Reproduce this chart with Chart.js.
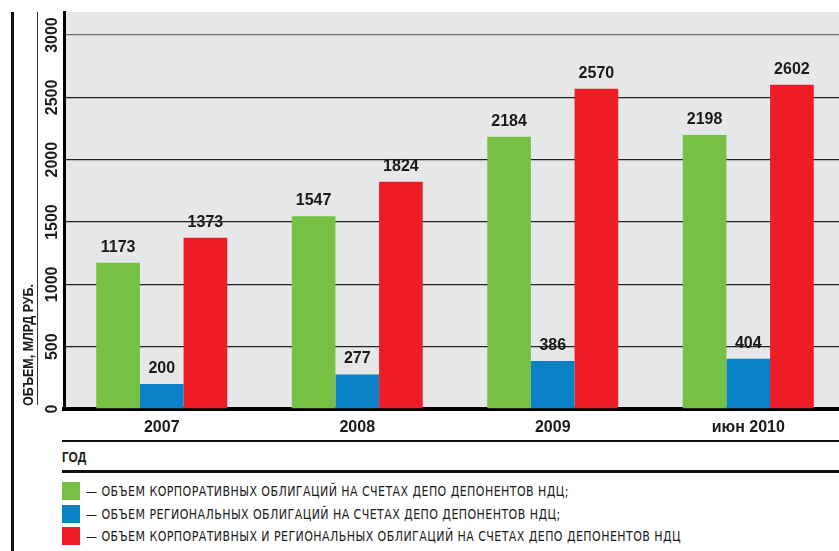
<!DOCTYPE html>
<html>
<head>
<meta charset="utf-8">
<script src="https://cdn.jsdelivr.net/npm/chart.js@4.4.1/dist/chart.umd.min.js"></script>
<style>
  html, body { margin: 0; padding: 0; background: #fff; overflow: hidden; }
  body { width: 839px; height: 551px; position: relative; font-family: "Liberation Sans", Arial, sans-serif; color: #1a1a1a; }
  #chart { position: absolute; left: 0; top: 0; }
  .line { position: absolute; background: #111; }
  .god { position: absolute; left: 62px; top: 449px; font: bold 14px "Liberation Sans Narrow", "Liberation Sans", sans-serif; transform: scaleX(0.85); transform-origin: left center; }
  .leg { position: absolute; left: 62px; white-space: nowrap; height: 18px; }
  .leg i { position: absolute; left: 0; top: 0; width: 18px; height: 18px; }
  .leg span { position: absolute; left: 24px; top: 1px; font: 14px "Liberation Sans Narrow", "DejaVu Sans Condensed", sans-serif; letter-spacing: 0.5px; transform-origin: left center; }
</style>
</head>
<body>
<canvas id="chart" width="850" height="440"></canvas>
<div class="line" style="left:11px; top:12px; width:3px; height:539px;"></div>
<div class="line" style="left:37px; top:12px; width:1px; height:393px; background:#333;"></div>
<div class="line" style="left:62px; top:440px; width:777px; height:2px;"></div>
<div class="god">ГОД</div>
<div class="line" style="left:62px; top:470px; width:777px; height:3px;"></div>
<div id="legend"></div>

<script>
const categories = ['2007', '2008', '2009', 'июн 2010'];
const corporate = [1173, 1547, 2184, 2198];
const regional = [200, 277, 386, 404];
const total = [1373, 1824, 2570, 2602];
const yTicks = [0, 500, 1000, 1500, 2000, 2500, 3000];
const yTitle = 'ОБЪЕМ, МЛРД РУБ.';
const legendLabels = [
  '— ОБЪЕМ КОРПОРАТИВНЫХ ОБЛИГАЦИЙ НА СЧЕТАХ ДЕПО ДЕПОНЕНТОВ НДЦ;',
  '— ОБЪЕМ РЕГИОНАЛЬНЫХ ОБЛИГАЦИЙ НА СЧЕТАХ ДЕПО ДЕПОНЕНТОВ НДЦ;',
  '— ОБЪЕМ КОРПОРАТИВНЫХ И РЕГИОНАЛЬНЫХ ОБЛИГАЦИЙ НА СЧЕТАХ ДЕПО ДЕПОНЕНТОВ НДЦ'
];
const colors = ['#76c043', '#0a80c6', '#ee1c25'];

// legend in html, squeezed so the long line is ~595px like the original
const legend = document.getElementById('legend');
const spans = [];
legendLabels.forEach((txt, i) => {
  const d = document.createElement('div');
  d.className = 'leg';
  d.style.top = (482 + i * 22.5) + 'px';
  d.innerHTML = '<i style="background:' + colors[i] + '"></i><span>' + txt + '</span>';
  legend.appendChild(d);
  spans.push(d.querySelector('span'));
});
const longest = spans[2].getBoundingClientRect().width;
const sx = 595 / longest;
spans.forEach(s => { s.style.transform = 'scaleX(' + sx + ')'; });

const bgPlugin = {
  id: 'bg',
  beforeDraw(chart) {
    const { ctx, chartArea: a } = chart;
    ctx.save();
    ctx.fillStyle = '#e6e7e9';
    ctx.fillRect(a.left, a.top, a.right - a.left, a.bottom - a.top);
    ctx.restore();
  }
};

// rotated y tick labels + y title
const yLabelsPlugin = {
  id: 'yLabels',
  afterDraw(chart) {
    const { ctx } = chart;
    const y = chart.scales.y;
    ctx.save();
    ctx.fillStyle = '#1a1a1a';
    ctx.font = 'bold 16px "Liberation Sans", Arial, sans-serif';
    ctx.textAlign = 'center';
    ctx.textBaseline = 'middle';
    yTicks.forEach(v => {
      const py = y.getPixelForValue(v);
      ctx.save();
      ctx.translate(52, py);
      ctx.rotate(-Math.PI / 2);
      ctx.fillText(String(v), 0, 1);
      ctx.restore();
    });
    ctx.font = 'bold 15px "Liberation Sans Narrow", "Liberation Sans", sans-serif';
    ctx.textAlign = 'left';
    ctx.textBaseline = 'alphabetic';
    const w = ctx.measureText(yTitle).width;
    ctx.save();
    ctx.translate(33, y.getPixelForValue(0) - 3);
    ctx.rotate(-Math.PI / 2);
    ctx.scale(122 / w, 1);
    ctx.fillText(yTitle, 0, 0);
    ctx.restore();
    ctx.restore();
  }
};

const valuePlugin = {
  id: 'values',
  afterDatasetsDraw(chart) {
    const { ctx } = chart;
    ctx.save();
    ctx.fillStyle = '#1a1a1a';
    ctx.font = 'bold 16px "Liberation Sans", Arial, sans-serif';
    ctx.textAlign = 'center';
    ctx.textBaseline = 'alphabetic';
    chart.data.datasets.forEach((ds, i) => {
      chart.getDatasetMeta(i).data.forEach((bar, j) => {
        ctx.fillText(String(ds.data[j]), bar.x, bar.y - 11);
      });
    });
    ctx.restore();
  }
};

const data = {
  labels: categories,
  datasets: [
    { label: 'corporate', data: corporate, backgroundColor: colors[0] },
    { label: 'regional', data: regional, backgroundColor: colors[1] },
    { label: 'total', data: total, backgroundColor: colors[2] }
  ]
};

const config = {
  type: 'bar',
  data: data,
  options: {
    responsive: false,
    animation: false,
    layout: { padding: { left: 64, right: 4, top: 12, bottom: 0 } },
    datasets: { bar: { barPercentage: 1, categoryPercentage: 0.67, borderWidth: 0 } },
    plugins: { legend: { display: false }, tooltip: { enabled: false } },
    scales: {
      x: {
        grid: { display: false, drawTicks: false },
        border: { display: true, color: '#000', width: 4 },
        ticks: { color: '#1a1a1a', font: { family: '"Liberation Sans", Arial, sans-serif', size: 16, weight: 'bold' }, padding: 9 },
        afterFit(scale) { scale.height = 31; }
      },
      y: {
        min: 0,
        max: 3185,
        grid: {
          drawTicks: false,
          color: ctx => (ctx.tick && ctx.tick.value === 3000 ? '#6d6d6d' : '#222'),
          lineWidth: 1.3
        },
        border: { display: true, color: '#000', width: 3 },
        ticks: { display: false, stepSize: 500 },
        afterBuildTicks(scale) { scale.ticks = yTicks.map(v => ({ value: v })); },
        afterFit(scale) { scale.width = 0; }
      }
    }
  },
  plugins: [bgPlugin, yLabelsPlugin, valuePlugin]
};

const myChart = new Chart(document.getElementById('chart'), config);
</script>
</body>
</html>
